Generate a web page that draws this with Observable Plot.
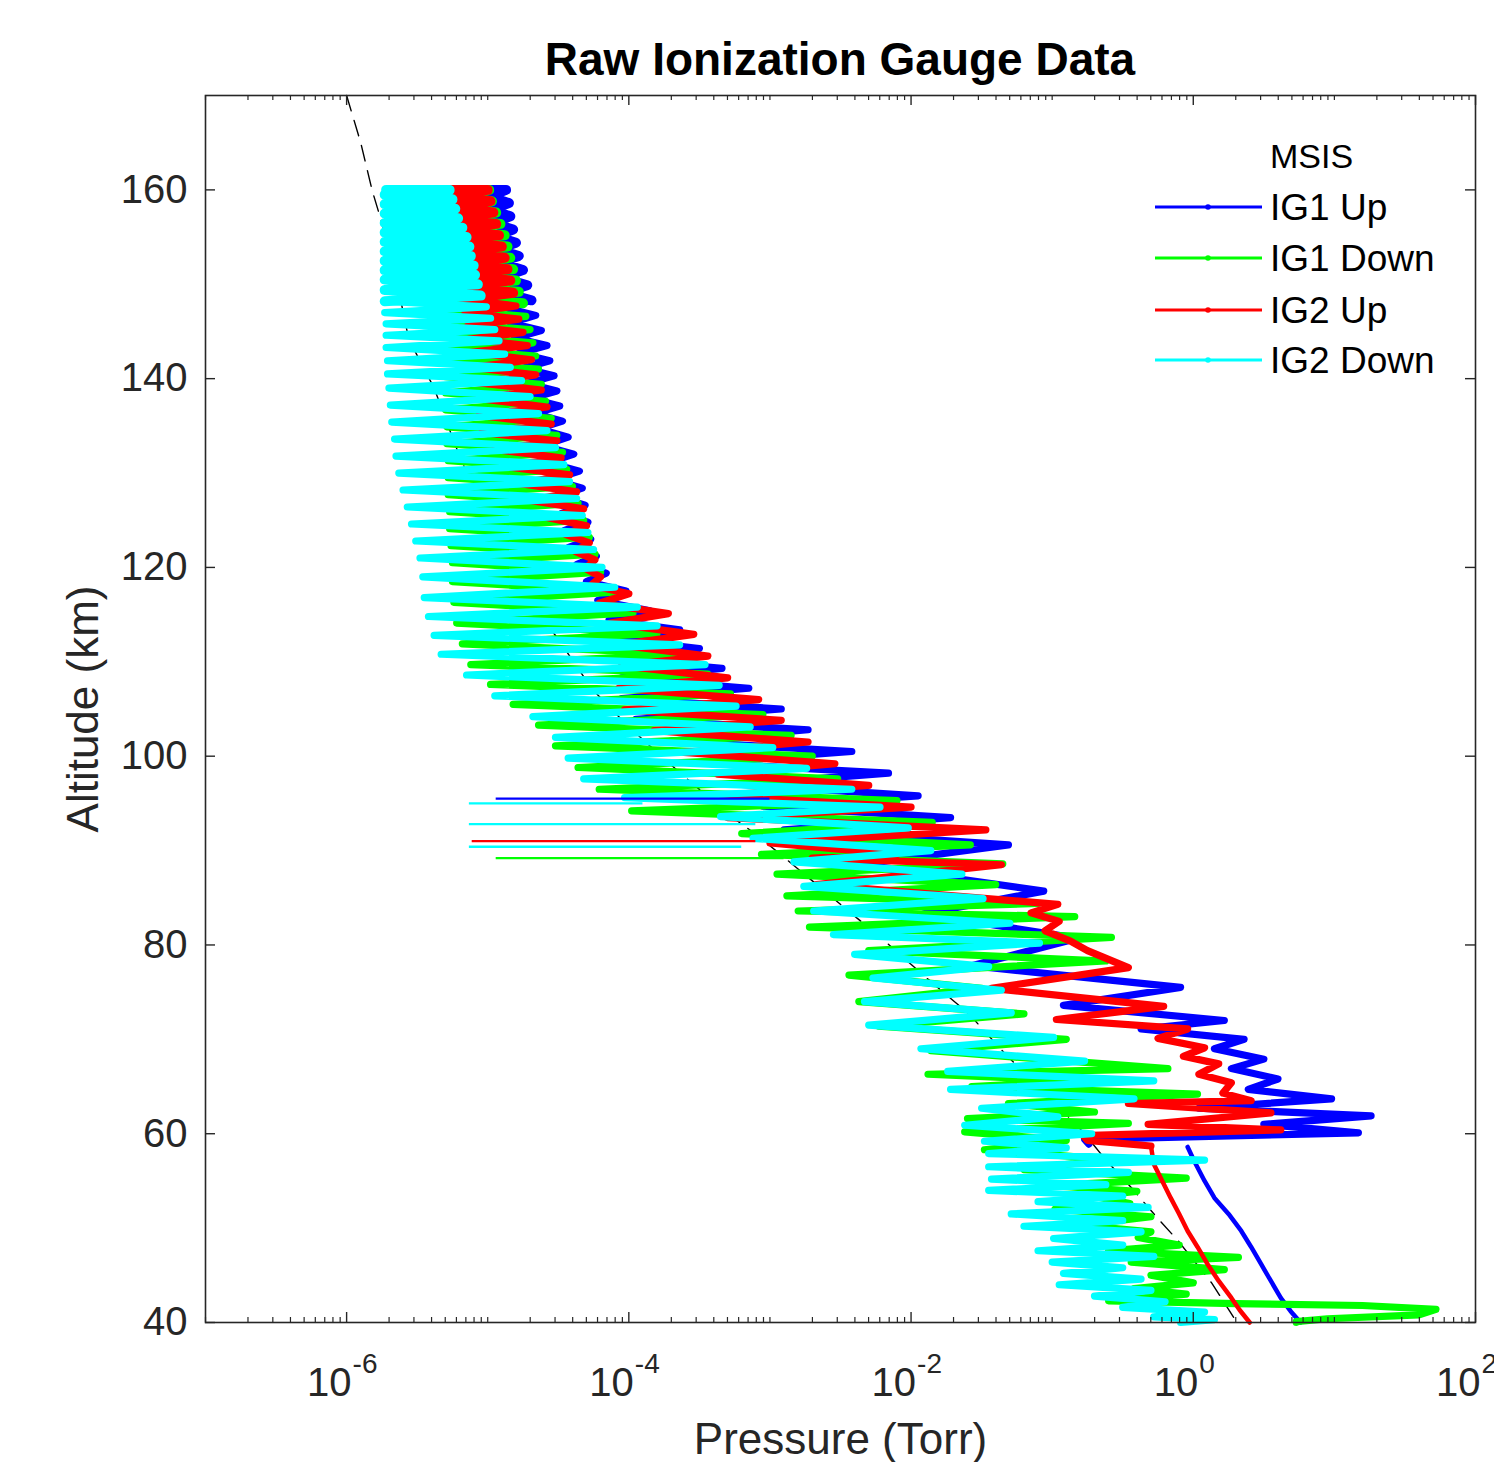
<!DOCTYPE html>
<html>
<head>
<meta charset="utf-8">
<script src="https://cdn.jsdelivr.net/npm/d3@7"></script>
<script src="https://cdn.jsdelivr.net/npm/@observablehq/plot@0.6"></script>
<style>
  body { margin: 0; background: #fff; font-family: "Liberation Sans", Arial, Helvetica, sans-serif; }
  #wrap { position: relative; width: 1494px; height: 1462px; overflow: hidden; background: #fff; }
  #title { box-sizing: border-box; height: 90px; padding-top: 36px; padding-left: 205px; width: 1475px;
           text-align: center; font-weight: bold; font-size: 46px; line-height: 46px; color: #000; white-space: nowrap; }
  #legend { position: absolute; left: 0; top: 0; pointer-events: none; }
</style>
</head>
<body>
<div id="wrap">
  <div id="title">Raw Ionization Gauge Data</div>
  <div id="chart"></div>
  <svg id="legend" width="1494" height="1462"></svg>
</div>
<script>
// ---------------- DATA (altitude km, log10 pressure Torr) ----------------
const seriesNames  = ["MSIS", "IG1 Up", "IG1 Down", "IG2 Up", "IG2 Down"];
const seriesColors = ["#000000", "#0000ff", "#00ff00", "#ff0000", "#00ffff"];

const yTickValues = [40, 60, 80, 100, 120, 140, 160];
const xTickValues = [1e-6, 1e-4, 1e-2, 1, 100];

const msis = [[170,-6.00],[165,-5.90],[160,-5.82],[155.5,-5.73],[150,-5.64],[144.2,-5.56],[139,-5.38],[132.2,-5.21],
  [125.5,-5.02],[120,-4.85],[116,-4.69],[112.6,-4.51],[107.1,-4.26],[103.1,-4.00],[98.4,-3.65],[93.8,-3.29],[91.5,-3.08],
  [87.8,-2.78],[83.8,-2.46],[80.6,-2.20],[76.5,-1.89],[72.7,-1.59],[68.4,-1.33],[64.2,-1.04],[60.0,-0.77],[57.4,-0.63],
  [54.3,-0.44],[51.0,-0.25],[48.7,-0.11],[44.2,0.13],[40.0,0.31]];

const ig1Up = [[160.0,-5.00],[160.0,-4.87],
  [159.3,-4.99],[158.6,-4.85],[157.9,-4.98],[157.2,-4.84],[156.5,-4.97],[155.8,-4.82],[155.1,-4.95],[154.4,-4.80],
  [153.7,-4.94],[153.0,-4.78],[152.3,-4.92],[151.5,-4.75],[150.7,-4.91],[149.9,-4.72],[149.1,-4.89],[148.3,-4.69],
  [147.5,-4.87],[146.7,-4.66],[145.9,-4.84],[145.1,-4.62],[144.3,-4.81],[143.5,-4.58],[142.7,-4.78],[141.9,-4.56],
  [141.1,-4.75],[140.3,-4.53],[139.5,-4.72],[138.7,-4.51],[137.9,-4.70],[137.1,-4.49],[136.3,-4.67],[135.5,-4.47],
  [134.7,-4.64],[133.8,-4.43],[132.9,-4.61],[132.0,-4.39],[131.1,-4.57],[130.2,-4.35],[129.3,-4.54],[128.4,-4.33],
  [127.5,-4.51],[126.6,-4.31],[125.7,-4.48],[124.8,-4.29],[123.9,-4.46],[123.0,-4.27],[122.1,-4.43],[121.2,-4.23],
  [120.3,-4.37],[119.4,-4.16],[118.5,-4.30],[117.5,-4.02],[116.5,-4.22],[115.4,-3.85],[114.4,-4.14],[113.4,-3.64],
  [112.4,-4.08],[111.4,-3.50],[110.3,-4.07],[109.3,-3.34],[108.3,-4.05],[107.2,-3.15],[106.1,-4.05],[105.0,-2.92],
  [103.9,-3.95],[102.8,-2.73],[101.6,-3.70],[100.5,-2.42],[99.3,-3.50],[98.2,-2.16],[97.0,-3.20],[95.8,-1.95],
  [94.7,-3.05],[93.5,-1.72],[92.2,-2.90],[90.6,-1.31],[88.5,-2.37],[85.7,-1.06],[83.3,-1.91],[80.7,-0.82],
  [77.8,-1.57],[75.5,-0.09],[73.6,-0.92],[72.0,0.22],[71.1,-0.37],[70.0,0.36],[69.0,0.15],[67.9,0.50],[66.9,0.27],
  [65.8,0.60],[64.7,0.39],[63.7,0.98],[62.7,0.04],[61.9,1.26],[61.0,0.50],[60.1,1.17],[59.4,-0.77],[58.9,-0.74],
  [58.6,-0.04],[57.0,0.01],[55.0,0.08],[53.2,0.15],[51.5,0.25],[49.7,0.34],[48.0,0.41],[46.2,0.48],[44.4,0.55],
  [42.6,0.62],[41.2,0.69],[40.0,0.76]];

const ig1Down = [[160.0,-5.20],[160.0,-4.99],
  [159.4,-5.22],[158.8,-4.97],[158.2,-5.24],[157.6,-4.94],[157.0,-5.25],[156.4,-4.91],[155.8,-5.26],[155.2,-4.88],
  [154.6,-5.27],[154.0,-4.86],[153.4,-5.28],[152.8,-4.84],[152.2,-5.28],[151.6,-4.82],[151.0,-5.29],[150.4,-4.80],
  [149.8,-5.29],[149.2,-4.78],[148.6,-5.29],[148.0,-4.75],[147.3,-5.30],[146.6,-4.73],[145.9,-5.30],[145.2,-4.70],
  [144.5,-5.30],[143.8,-4.68],[143.1,-5.30],[142.4,-4.66],[141.7,-5.30],[141.0,-4.64],[140.2,-5.30],[139.4,-4.62],
  [138.5,-5.30],[137.6,-4.59],[136.7,-5.30],[135.8,-4.55],[134.9,-5.29],[134.0,-4.51],[133.1,-5.29],[132.2,-4.47],
  [131.3,-5.28],[130.4,-4.44],[129.5,-5.28],[128.6,-4.40],[127.7,-5.28],[126.8,-4.36],[125.9,-5.27],[125.0,-4.32],
  [124.1,-5.27],[123.2,-4.28],[122.3,-5.26],[121.4,-4.24],[120.5,-5.25],[119.5,-4.20],[118.5,-5.25],[117.4,-4.08],
  [116.3,-5.24],[115.2,-3.97],[114.1,-5.22],[113.0,-3.80],[111.9,-5.18],[110.8,-3.60],[109.7,-5.12],[108.7,-3.44],
  [107.6,-4.98],[106.6,-3.28],[105.5,-4.82],[104.4,-3.05],[103.3,-4.64],[102.2,-2.85],[101.1,-4.52],[100.0,-2.70],
  [98.8,-4.36],[97.6,-2.52],[96.5,-4.21],[95.3,-2.10],[94.2,-3.98],[93.0,-1.85],[91.8,-3.20],[90.6,-1.58],
  [89.6,-3.06],[88.6,-1.35],[87.5,-2.95],[86.4,-1.40],[85.2,-2.88],[84.4,-1.10],[83.6,-2.80],[83.0,-0.84],
  [81.9,-2.72],[80.8,-0.58],[79.4,-2.30],[78.3,-0.62],[76.8,-2.44],[75.4,-1.50],[74.0,-2.37],[72.7,-1.20],
  [71.4,-2.23],[70.0,-0.90],[68.8,-1.86],[66.9,-0.18],[66.3,-1.88],[65.6,-0.80],[65.0,-1.57],[64.2,0.03],
  [63.2,-1.31],[62.3,-0.70],[61.6,-1.60],[61.1,-0.46],[60.2,-1.62],[59.3,-0.90],[58.3,-1.48],[57.3,-0.60],
  [56.2,-1.20],[55.3,-0.05],[54.5,-1.00],[53.9,-0.40],[53.4,-0.72],[52.6,-0.45],[52.0,-0.98],[51.2,-0.30],
  [50.3,-0.80],[49.6,-0.30],[49.0,-0.39],[48.2,-0.10],[47.6,-0.60],[46.9,0.32],[46.4,-0.44],[45.6,0.22],
  [45.0,-0.30],[44.2,0.00],[43.6,-0.42],[43.0,-0.05],[42.3,-0.60],[42.0,0.30],[41.8,1.20],[41.4,1.72],
  [40.8,1.60],[40.4,0.95],[40.1,0.73],[40.0,0.73]];

const ig2Up = [[160.0,-5.26],[160.0,-5.00],
  [159.4,-5.28],[158.8,-4.98],[158.2,-5.30],[157.6,-4.96],[157.0,-5.32],[156.4,-4.94],[155.8,-5.34],[155.2,-4.92],
  [154.6,-5.31],[154.0,-4.90],[153.4,-5.27],[152.8,-4.88],[152.2,-5.24],[151.6,-4.86],[151.0,-5.21],[150.4,-4.84],
  [149.8,-5.19],[149.1,-4.82],[148.4,-5.17],[147.7,-4.80],[147.0,-5.16],[146.3,-4.78],[145.6,-5.14],[144.9,-4.75],
  [144.2,-5.13],[143.5,-4.72],[142.8,-5.12],[142.0,-4.69],[141.2,-5.11],[140.4,-4.66],[139.6,-5.09],[138.8,-4.62],
  [137.9,-5.07],[137.0,-4.58],[136.1,-5.06],[135.2,-4.55],[134.3,-5.04],[133.4,-4.51],[132.5,-4.95],[131.6,-4.48],
  [130.7,-4.88],[129.8,-4.42],[128.9,-4.78],[128.0,-4.37],[127.1,-4.70],[126.2,-4.32],[125.3,-4.58],[124.4,-4.30],
  [123.5,-4.45],[122.6,-4.28],[121.7,-4.38],[120.8,-4.24],[119.9,-4.31],[119.0,-4.20],[118.1,-4.27],[117.2,-4.00],
  [116.2,-4.21],[115.1,-3.72],[114.1,-4.13],[112.9,-3.54],[111.8,-4.07],[110.6,-3.44],[109.6,-4.05],[108.3,-3.30],
  [107.2,-4.07],[106.0,-3.08],[104.9,-4.03],[103.8,-2.92],[102.7,-3.82],[101.5,-2.73],[100.4,-3.61],[99.2,-2.54],
  [98.1,-3.37],[96.9,-2.30],[95.8,-3.40],[94.6,-2.00],[93.5,-3.30],[92.2,-1.47],[90.8,-3.00],[89.6,-2.10],
  [89.2,-2.70],[88.5,-1.36],[86.4,-2.67],[84.3,-0.96],[83.4,-1.15],[82.5,-0.95],[81.5,-1.05],[80.4,-0.87],
  [79.4,-0.75],[77.6,-0.46],[75.4,-1.43],[73.5,-0.21],[72.1,-0.97],[71.1,-0.04],[70.1,-0.25],[69.1,0.08],
  [68.2,-0.07],[67.4,0.18],[66.3,0.04],[65.4,0.27],[64.3,0.21],[63.5,0.41],[63.2,-0.46],[62.2,0.55],[61.0,-0.32],
  [60.4,0.62],[59.8,-0.78],[59.3,-0.75],[58.7,-0.30],[56.8,-0.28],[55.0,-0.22],[53.2,-0.16],[51.5,-0.10],
  [49.7,-0.04],[48.0,0.03],[46.2,0.10],[44.4,0.18],[42.6,0.27],[41.3,0.33],[40.0,0.40]];

const ig2Down = [[160.0,-5.72],[160.0,-5.27],
  [159.5,-5.73],[159.0,-5.25],[158.5,-5.73],[158.0,-5.23],[157.5,-5.73],[157.0,-5.21],[156.5,-5.73],[156.0,-5.18],
  [155.5,-5.73],[155.0,-5.15],[154.5,-5.73],[154.0,-5.13],[153.5,-5.73],[153.0,-5.12],[152.5,-5.73],[152.0,-5.10],
  [151.5,-5.73],[151.0,-5.09],[150.5,-5.73],[150.0,-5.07],[149.4,-5.73],[148.8,-5.05],[148.2,-5.73],[147.6,-5.01],
  [147.0,-5.73],[146.4,-4.98],[145.8,-5.72],[145.2,-4.95],[144.6,-5.72],[144.0,-4.92],[143.3,-5.72],[142.6,-4.88],
  [141.9,-5.71],[141.2,-4.84],[140.5,-5.71],[139.8,-4.76],[139.0,-5.70],[138.1,-4.70],[137.2,-5.69],[136.3,-4.64],
  [135.4,-5.68],[134.5,-4.58],[133.6,-5.66],[132.7,-4.52],[131.8,-5.65],[130.9,-4.46],[130.0,-5.63],[129.1,-4.42],
  [128.2,-5.60],[127.3,-4.37],[126.4,-5.57],[125.5,-4.33],[124.6,-5.54],[123.7,-4.29],[122.8,-5.51],[121.9,-4.25],
  [121.0,-5.48],[120.0,-4.19],[119.0,-5.46],[117.9,-4.10],[116.8,-5.45],[115.8,-3.94],[114.8,-5.42],[113.8,-3.80],
  [112.8,-5.38],[111.8,-3.64],[110.8,-5.33],[109.7,-3.46],[108.6,-5.15],[107.5,-3.36],[106.4,-4.95],[105.3,-3.24],
  [104.2,-4.68],[103.1,-3.14],[102.0,-4.52],[100.9,-2.98],[99.8,-4.43],[98.7,-2.74],[97.6,-4.32],[96.5,-2.42],
  [95.6,-4.03],[94.6,-2.22],[93.6,-3.35],[92.4,-2.02],[91.3,-3.12],[90.0,-1.86],[88.8,-2.83],[87.5,-1.64],
  [86.2,-2.76],[84.9,-1.49],[83.6,-2.69],[82.3,-1.30],[81.1,-2.55],[80.2,-1.09],[79.0,-2.40],[77.7,-1.45],
  [76.5,-2.27],[75.2,-1.36],[74.0,-2.33],[72.8,-1.29],[71.5,-2.30],[70.2,-0.99],[69.0,-1.93],[67.7,-0.77],
  [66.6,-1.74],[65.6,-0.28],[64.7,-1.72],[63.7,-0.42],[62.7,-1.50],[61.8,-0.96],[60.9,-1.62],[60.0,-0.72],
  [59.2,-1.48],[58.5,-0.90],[57.9,-1.45],[57.2,0.08],[56.5,-1.45],[55.9,-0.46],[55.2,-1.43],[54.6,-0.62],
  [54.0,-1.45],[53.4,-0.50],[52.8,-1.10],[52.2,-0.32],[51.5,-1.29],[50.8,-0.50],[50.2,-1.20],[49.6,-0.37],
  [48.9,-0.99],[48.2,-0.50],[47.6,-1.10],[47.0,-0.28],[46.4,-1.00],[45.8,-0.50],[45.2,-0.92],[44.6,-0.37],
  [44.0,-0.95],[43.4,-0.30],[42.8,-0.70],[42.2,-0.20],[41.6,-0.50],[41.1,0.08],[40.6,-0.28],[40.3,0.15],[40.0,-0.09]];

// isolated dropouts (thin horizontal excursions): series, altitude, log10 p from, log10 p to
const spikeSeries = ["IG1 Up", "IG2 Down", "IG2 Down", "IG2 Up", "IG2 Down", "IG1 Down"];
const spikeAlt    = [95.5, 95.0, 92.8, 91.0, 90.4, 89.2];
const spikeFrom   = [-4.94, -5.13, -5.13, -5.11, -5.13, -4.94];
const spikeTo     = [-3.00, -3.90, -3.10, -3.10, -3.20, -2.90];

// altitude below which the Up gauges show a smooth (non-spinning) profile
const smoothBelowKm = 58.7;
// altitude above which the trace is dense near apogee (appears solid)
const denseAboveKm = 148;

// ---------------- LAYOUT ----------------
const W = 1494, H = 1372, mL = 205, mR = 19, mT = 5, mB = 140;
const xDomain = [1e-7, 1e2], yDomain = [40, 170];
const plotW = W - mL - mR, plotH = H - mT - mB;
const kmPerPx = (yDomain[1] - yDomain[0]) / plotH;
const decPerPx = Math.log10(xDomain[1] / xDomain[0]) / plotW;
const axisColor = "#262626";

const rows = arr => arr.map(([alt, lp]) => ({alt, p: Math.pow(10, lp)}));
const colorOf = Object.fromEntries(seriesNames.map((n, i) => [n, seriesColors[i]]));

const spikes = spikeSeries.map((s, i) => ({series: s, alt: spikeAlt[i], x1: Math.pow(10, spikeFrom[i]), x2: Math.pow(10, spikeTo[i])}));

// minor log ticks
const xMinor = [];
for (let k = Math.log10(xDomain[0]); k < Math.log10(xDomain[1]); k++) {
  for (let m = 1; m <= 9; m++) {
    const v = m * Math.pow(10, k);
    if (!xTickValues.some(t => Math.abs(t - v) / t < 1e-9)) xMinor.push(v);
  }
}
const majLenY = 10 * kmPerPx, minLenY = 5 * kmPerPx;
const xTickFactor = Math.pow(10, 10 * decPerPx);

const lineOpts = (color, w) => ({x: "p", y: "alt", stroke: color, strokeWidth: w, strokeLinejoin: "round", strokeLinecap: "round"});
const wavyW = 7.2, denseW = 10, smoothW = 4.5;
const upperPart = arr => rows(arr).filter(d => d.alt >= smoothBelowKm);
const lowerPart = arr => rows(arr).filter(d => d.alt <= smoothBelowKm + 0.01);
const apexPart = arr => rows(arr).filter(d => d.alt >= denseAboveKm);

const seriesMarks = (name, arr, hasSmoothTail) => [
  Plot.line(hasSmoothTail ? upperPart(arr) : rows(arr), lineOpts(colorOf[name], wavyW)),
  Plot.line(apexPart(arr), lineOpts(colorOf[name], denseW)),
  ...(hasSmoothTail ? [Plot.line(lowerPart(arr), lineOpts(colorOf[name], smoothW))] : [])
];

const chart = Plot.plot({
  width: W, height: H,
  marginLeft: mL, marginRight: mR, marginTop: mT, marginBottom: mB,
  style: {fontFamily: '"Liberation Sans", Arial, Helvetica, sans-serif', fontSize: "40px", color: axisColor, background: "white", overflow: "visible"},
  x: {type: "log", domain: xDomain, axis: null},
  y: {domain: yDomain, ticks: yTickValues, tickSize: 0, tickPadding: 18, label: null, tickFormat: d => String(d)},
  marks: [
    Plot.line(rows(msis), {x: "p", y: "alt", stroke: "#000", strokeWidth: 1.4, strokeDasharray: "16,10"}),
    ...seriesMarks("IG1 Up", ig1Up, true),
    ...seriesMarks("IG1 Down", ig1Down, false),
    ...seriesMarks("IG2 Up", ig2Up, true),
    ...seriesMarks("IG2 Down", ig2Down, false),
    ...["IG1 Up", "IG1 Down", "IG2 Up", "IG2 Down"].map(s =>
      Plot.ruleY(spikes.filter(d => d.series === s), {y: "alt", x1: "x1", x2: "x2", stroke: colorOf[s], strokeWidth: 2.4})),
    // frame
    Plot.frame({stroke: axisColor, strokeWidth: 1.6}),
    // x ticks (inward, bottom & top)
    Plot.ruleX(xTickValues, {x: d => d, y1: yDomain[0], y2: yDomain[0] + majLenY, stroke: axisColor, strokeWidth: 1.4}),
    Plot.ruleX(xTickValues, {x: d => d, y1: yDomain[1], y2: yDomain[1] - majLenY, stroke: axisColor, strokeWidth: 1.4}),
    Plot.ruleX(xMinor, {x: d => d, y1: yDomain[0], y2: yDomain[0] + minLenY, stroke: axisColor, strokeWidth: 1.2}),
    Plot.ruleX(xMinor, {x: d => d, y1: yDomain[1], y2: yDomain[1] - minLenY, stroke: axisColor, strokeWidth: 1.2}),
    // y ticks (inward, left & right)
    Plot.ruleY(yTickValues, {y: d => d, x1: xDomain[0], x2: xDomain[0] * xTickFactor, stroke: axisColor, strokeWidth: 1.4}),
    Plot.ruleY(yTickValues, {y: d => d, x1: xDomain[1], x2: xDomain[1] / xTickFactor, stroke: axisColor, strokeWidth: 1.4}),
    // x tick labels 10^n
    Plot.text(xTickValues, {x: d => d, frameAnchor: "bottom", text: () => "10", textAnchor: "end", lineAnchor: "bottom",
      dx: 5, dy: 73, fontSize: 40, fill: axisColor}),
    Plot.text(xTickValues, {x: d => d, frameAnchor: "bottom", text: d => String(Math.round(Math.log10(d))), textAnchor: "start",
      lineAnchor: "bottom", dx: 6, dy: 50, fontSize: 28, fill: axisColor}),
    // axis titles
    Plot.text(["Pressure (Torr)"], {frameAnchor: "bottom", text: d => d, textAnchor: "middle", lineAnchor: "bottom", dy: 131, fontSize: 44, fill: axisColor}),
    Plot.text(["Altitude (km)"], {frameAnchor: "left", text: d => d, rotate: -90, textAnchor: "middle", lineAnchor: "bottom", dx: -108, fontSize: 44, fill: axisColor})
  ]
});
document.getElementById("chart").appendChild(chart);

// ---------------- LEGEND (inside axes, upper right, no box) ----------------
const legend = d3.select("#legend");
const legendRowY = [155, 207, 258, 310, 360];
seriesNames.forEach((name, i) => {
  const cy = legendRowY[i];
  if (name !== "MSIS") {
    legend.append("line").attr("x1", 1155).attr("x2", 1262).attr("y1", cy).attr("y2", cy)
      .attr("stroke", seriesColors[i]).attr("stroke-width", 3);
    legend.append("circle").attr("cx", 1208).attr("cy", cy).attr("r", 2.8).attr("fill", seriesColors[i]);
  }
  legend.append("text").attr("x", 1270).attr("y", cy + 13)
    .attr("font-family", '"Liberation Sans", Arial, Helvetica, sans-serif')
    .attr("font-size", name === "MSIS" ? 34 : 37).attr("fill", "#000").text(name);
});
</script>
</body>
</html>
